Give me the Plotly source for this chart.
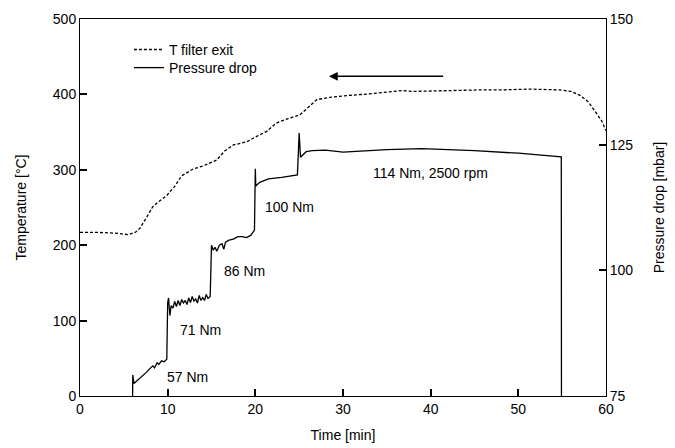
import plotly.graph_objects as go

# T filter exit (left axis, °C)
t_time = [0, 2, 4, 5.5, 6.3, 6.8, 7.5, 8.3, 9.0, 9.9, 10.8, 11.6, 12.9, 14, 15.6, 16.5, 17.5, 19, 20.1,
          21.3, 22.4, 23.5, 25.1, 26, 27, 28.5, 30, 32.3, 34, 36.7, 38, 39.9, 42, 45.6, 48, 51.3, 54.7,
          56, 57, 58, 58.9, 59.5, 60]
t_temp = [217, 217, 216, 214, 217, 222, 235, 251, 258, 266, 278, 292, 301, 305, 313, 325, 333, 337, 344,
          351, 362, 367, 373, 383, 393, 396, 398, 400, 402, 405, 404, 404, 405, 406, 406, 407, 406,
          404, 399, 390, 376, 365, 352]

# Pressure drop (right axis, mbar)
p_time = [6.0, 6.02, 6.15, 6.5, 7.0, 7.5, 8.0, 8.3, 8.5, 8.8, 9.0, 9.3, 9.6, 9.9,
          10.0, 10.1, 10.25, 10.4, 10.6, 10.8, 11.0, 11.2, 11.4, 11.6, 11.8, 12.0, 12.2, 12.4, 12.6,
          12.8, 13.0, 13.2, 13.4, 13.6, 13.8, 14.0, 14.2, 14.4, 14.6, 14.85,
          15.0, 15.2, 15.4, 15.6, 15.9, 16.2, 16.4, 16.6, 17.0, 17.5, 18.0, 18.5, 19.0, 19.5, 19.9,
          20.0, 20.05, 20.5, 21.5, 23.0, 24.8,
          25.0, 25.15, 25.8, 26.5, 28, 30, 35, 39, 45, 50, 54.9, 54.92]
p_mbar = [75.0, 79.2, 77.5, 78.0, 78.8, 79.6, 80.5, 81.0, 80.6, 81.6, 81.3, 82.0, 81.8, 82.3,
          93.5, 94.5, 91.0, 93.0, 92.5, 93.8, 92.8, 94.0, 93.0, 94.2, 93.5, 94.0, 93.2, 94.5, 93.6,
          94.8, 93.9, 94.3, 93.5, 95.0, 94.0, 94.6, 94.0, 95.2, 94.4, 94.8,
          105.0, 104.0, 104.6, 103.8, 105.0, 105.3, 104.2, 105.6, 106.0, 106.2, 106.7, 106.7, 106.5, 107.0, 108.0,
          120.2, 116.8, 117.5, 118.2, 118.5, 119.0,
          127.3, 122.5, 123.6, 123.8, 123.9, 123.5, 124.0, 124.2, 123.8, 123.3, 122.6, 75.0]

# Labels (time, temperature-axis position, text)
lbl_x = [12.3, 13.7, 18.8, 23.9, 40.0]
lbl_y = [25, 87, 166, 251, 296]
lbl_text = ["57 Nm", "71 Nm", "86 Nm", "100 Nm", "114 Nm, 2500 rpm"]

FONT = "Liberation Sans, Arial, sans-serif"
FS = 14

fig = go.Figure()
fig.add_trace(go.Scatter(x=t_time, y=t_temp, mode="lines", name="T filter exit", legend="legend",
                         line=dict(color="black", width=1.3, dash="3px,2px")))
fig.add_trace(go.Scatter(x=p_time, y=p_mbar, mode="lines", name="Pressure drop", yaxis="y2",
                         legend="legend2", line=dict(color="black", width=1.3)))

for x, y, t in zip(lbl_x, lbl_y, lbl_text):
    fig.add_annotation(x=x, y=y, xref="x", yref="y", text=t, showarrow=False,
                       font=dict(size=FS, color="black", family=FONT))

fig.add_annotation(x=28.4, y=424, ax=41.6, ay=424, xref="x", yref="y", axref="x", ayref="y",
                   text="", showarrow=True, arrowhead=2, arrowsize=1.1, arrowwidth=1.6,
                   arrowcolor="black")

axis_common = dict(showgrid=False, zeroline=False, ticks="inside", ticklen=7, tickwidth=2,
                   tickcolor="black", linecolor="black", linewidth=1, showline=True,
                   automargin=False,
                   tickfont=dict(size=FS, color="black", family=FONT))

leg_common = dict(xanchor="left", yanchor="middle", bgcolor="rgba(0,0,0,0)",
                  font=dict(size=FS, family=FONT), itemwidth=30)

fig.update_layout(
    width=675, height=448,
    margin=dict(l=80, r=69, t=19, b=52, autoexpand=False),
    plot_bgcolor="white", paper_bgcolor="white",
    font=dict(family=FONT, color="black", size=FS),
    xaxis=dict(range=[0, 60], dtick=10, mirror=True,
               title=dict(text="Time [min]", font=dict(size=FS), standoff=14), **axis_common),
    yaxis=dict(range=[0, 500], dtick=100,
               title=dict(text="Temperature [°C]", font=dict(size=FS), standoff=22), **axis_common),
    yaxis2=dict(range=[75, 150], tickvals=[75, 100, 125, 150], overlaying="y", side="right",
                title=dict(text="Pressure drop [mbar]", font=dict(size=FS), standoff=21), **axis_common),
    legend=dict(x=0.093, y=0.918, **leg_common),
    legend2=dict(x=0.093, y=0.870, **leg_common),
    showlegend=True,
)

fig.write_html("out.html")
